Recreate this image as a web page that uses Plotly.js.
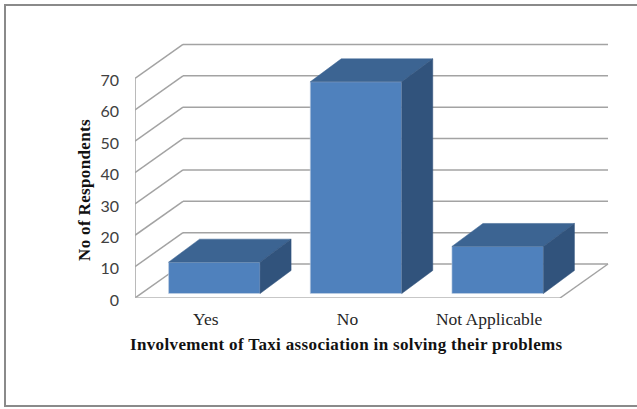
<!DOCTYPE html>
<html>
<head>
<meta charset="utf-8">
<script src="https://cdn.plot.ly/plotly-3.0.1.min.js"></script>
<style>
html,body{margin:0;padding:0;background:#fff;overflow:hidden}
#chart{width:637px;height:409px}
.annotation-text{letter-spacing:.35px}
</style>
</head>
<body>
<div id="chart"></div>
<script>
// Survey responses
const categories = ["Yes", "No", "Not Applicable"];
const respondents = [10, 67.5, 15];
const yTicks = [0, 10, 20, 30, 40, 50, 60, 70];

const xTitle = "Involvement of Taxi association in solving their problems";
const yTitle = "No of Respondents";

// Plot frame in page pixels
const W = 637, H = 409;
const plotLeft = 135, plotRight = 610, plotTop = 40, plotBottom = 298;
const pxPerCategory = 141.67, pxPerUnit = 3.136;
const px = v => v / pxPerCategory;   // horizontal pixels to category units
const py = v => v / pxPerUnit;       // vertical pixels to value units

// Oblique projection used for the pseudo-3D walls and boxes
const wallDX = px(48), wallDY = py(34);
const boxDX = px(31), boxDY = py(23);
const boxShiftX = px(8.5), boxShiftY = py(4.5);
const boxWidth = px(91.5);

const xMin = -0.5, xMax = xMin + (plotRight - plotLeft) / pxPerCategory;
const yMax = (plotBottom - plotTop) / pxPerUnit;
const floorEnd = categories.length - 0.5;

const FRONT = "#4f81bd", TOP = "#3c6492", SIDE = "#31537c", EDGE = "#c4d2e4";
const GRID = "#a3a3a3";

function line(x0, y0, x1, y1, color, width) {
  return {type: "line", xref: "x", yref: "y", layer: "below", x0, y0, x1, y1,
          line: {color: color || GRID, width: width || 1.5}};
}

// Walls and floor
const shapes = [];
yTicks.forEach(v => {
  shapes.push(line(xMin + wallDX, v + wallDY, floorEnd + wallDX, v + wallDY));
  shapes.push(line(xMin, v, xMin + wallDX, v + wallDY));
});
shapes.push(line(xMin, 0, xMin, yTicks[yTicks.length - 1]));
shapes.push(line(xMin, 0, floorEnd, 0, "#b4b4b4"));
shapes.push(line(floorEnd, 0, floorEnd + wallDX, wallDY));

// Outer frame: runs off the right edge of the page
const plotW = plotRight - plotLeft, plotH = plotBottom - plotTop;
const paperX = p => (p - plotLeft) / plotW;
const paperY = p => (plotBottom - p) / plotH;
shapes.push({type: "rect", xref: "paper", yref: "paper", layer: "below",
  x0: paperX(5), x1: paperX(645), y0: paperY(406), y1: paperY(5),
  line: {color: "#8a8a8a", width: 2}});

const frontX = categories.map((_, i) => i + boxShiftX);

const traces = [{
  type: "bar",
  x: frontX,
  y: respondents,
  base: respondents.map(() => boxShiftY),
  width: boxWidth,
  marker: {color: FRONT, line: {color: EDGE, width: 0.6}},
  hoverinfo: "skip",
  showlegend: false
}];

// Top and side faces of each box
respondents.forEach((v, i) => {
  const l = frontX[i] - boxWidth / 2, r = frontX[i] + boxWidth / 2;
  const t = boxShiftY + v, b = boxShiftY;
  traces.push({
    type: "scatter", mode: "lines", fill: "toself", fillcolor: TOP,
    x: [l, r, r + boxDX, l + boxDX, l],
    y: [t, t, t + boxDY, t + boxDY, t],
    line: {color: TOP, width: 0.5}, hoverinfo: "skip", showlegend: false
  });
  traces.push({
    type: "scatter", mode: "lines", fill: "toself", fillcolor: SIDE,
    x: [r, r + boxDX, r + boxDX, r, r],
    y: [t, t + boxDY, b + boxDY, b, t],
    line: {color: SIDE, width: 0.5}, hoverinfo: "skip", showlegend: false
  });
});

const layout = {
  width: W, height: H,
  paper_bgcolor: "#fff", plot_bgcolor: "rgba(0,0,0,0)",
  showlegend: false,
  margin: {l: plotLeft, r: W - plotRight, t: plotTop, b: H - plotBottom, pad: 0},
  xaxis: {
    type: "linear", range: [xMin, xMax], showgrid: false, zeroline: false, showline: false,
    tickmode: "array", tickvals: categories.map((_, i) => i), ticktext: categories,
    ticks: "", ticklabelstandoff: 8,
    tickfont: {family: "Liberation Serif", size: 17.5, color: "#262626"}
  },
  yaxis: {
    range: [0, yMax], showgrid: false, zeroline: false, showline: false,
    tickmode: "array", tickvals: yTicks,
    ticks: "", ticklabelstandoff: 15, ticklabelshift: 2,
    tickfont: {family: "Lato", size: 16, color: "#404040"}
  },
  shapes,
  annotations: [
    {xref: "paper", yref: "paper", x: paperX(346.5), y: paperY(344), xanchor: "center", yanchor: "middle",
     showarrow: false, text: "<b>" + xTitle + "</b>",
     font: {family: "Liberation Serif", size: 17, color: "#111"}},
    {xref: "paper", yref: "paper", x: paperX(85), y: paperY(190), xanchor: "center", yanchor: "middle",
     showarrow: false, textangle: -90, text: "<b>" + yTitle + "</b>",
     font: {family: "Liberation Serif", size: 17, color: "#111"}}
  ]
};

Plotly.newPlot("chart", traces, layout, {staticPlot: true, displayModeBar: false});
</script>
</body>
</html>
